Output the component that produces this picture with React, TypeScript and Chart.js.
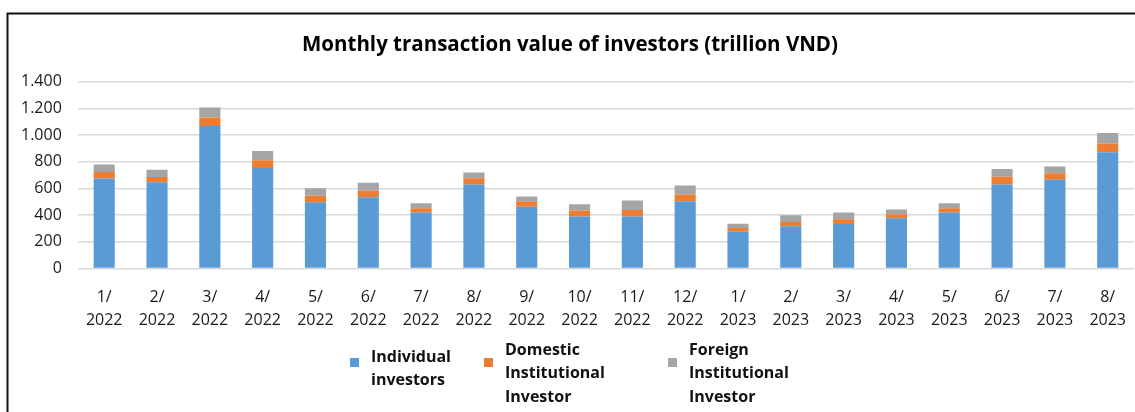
import React, { useEffect, useRef } from "react";
import { Chart, registerables } from "chart.js";

Chart.register(...registerables);

const categories: string[][] = [
  ["1/", "2022"], ["2/", "2022"], ["3/", "2022"], ["4/", "2022"], ["5/", "2022"],
  ["6/", "2022"], ["7/", "2022"], ["8/", "2022"], ["9/", "2022"], ["10/", "2022"],
  ["11/", "2022"], ["12/", "2022"], ["1/", "2023"], ["2/", "2023"], ["3/", "2023"],
  ["4/", "2023"], ["5/", "2023"], ["6/", "2023"], ["7/", "2023"], ["8/", "2023"],
];

const individual = [675, 647, 1067, 753, 497, 534, 419, 630, 462, 389, 389, 504, 276, 316, 334, 376, 419, 630, 665, 871];
const domestic = [48, 38, 65, 58, 48, 49, 33, 47, 42, 45, 50, 51, 28, 33, 35, 30, 33, 58, 48, 65];
const foreign = [57, 55, 75, 70, 57, 60, 37, 43, 36, 48, 71, 67, 32, 50, 50, 36, 37, 57, 52, 80];

const seriesLines: string[][] = [
  ["Individual", "investors"],
  ["Domestic", "Institutional", "Investor"],
  ["Foreign", "Institutional", "Investor"],
];
const seriesColors = ["#5B9BD5", "#ED7D31", "#A5A5A5"];

const titleText = "Monthly transaction value of investors (trillion VND)";
const yTicks = [0, 200, 400, 600, 800, 1000, 1200, 1400];

const FONT = '"Open Sans", "Noto Sans", sans-serif';

const frameLegendPlugin = {
  id: "frameLegend",
  beforeDraw(chart: any) {
    const ctx = chart.ctx;
    ctx.save();
    ctx.fillStyle = "#ffffff";
    ctx.fillRect(0, 0, chart.width, chart.height);
    ctx.strokeStyle = "#111111";
    ctx.lineWidth = 2;
    ctx.strokeRect(7.5, 13.5, 1200, 500);
    ctx.restore();
  },
  afterDraw(chart: any) {
    const ctx = chart.ctx;
    const boxX = [350, 484, 668];
    ctx.save();
    ctx.font = `bold 16px ${FONT}`;
    ctx.textAlign = "left";
    ctx.textBaseline = "alphabetic";
    chart.data.datasets.forEach((ds: any, i: number) => {
      const bx = boxX[i];
      ctx.fillStyle = ds.backgroundColor;
      ctx.fillRect(bx, 358, 9, 9);
      const lines = seriesLines[i];
      const first = 375.1 - 6.7 * lines.length;
      ctx.fillStyle = "#111111";
      lines.forEach((ln, j) => {
        ctx.fillText(ln, bx + 21, first + j * 23.3);
      });
    });
    ctx.restore();
  },
};

export default function App() {
  const ref = useRef<HTMLCanvasElement | null>(null);

  useEffect(() => {
    document.body.style.margin = "0";
    document.body.style.overflow = "hidden";
    const canvas = ref.current;
    if (!canvas) return;
    const chart = new Chart(canvas, {
      type: "bar",
      data: {
        labels: categories,
        datasets: [individual, domestic, foreign].map((d, i) => ({
          label: seriesLines[i].join(" "),
          data: d,
          backgroundColor: seriesColors[i],
          borderWidth: 0,
          categoryPercentage: 1,
          barPercentage: 0.4,
        })),
      },
      options: {
        responsive: false,
        animation: false,
        devicePixelRatio: 1,
        layout: { padding: { left: 5, right: 0, top: 0, bottom: 70.5 } },
        plugins: {
          legend: { display: false },
          tooltip: { enabled: false },
          title: {
            display: true,
            text: titleText,
            color: "#000000",
            font: { family: FONT, size: 20.5, weight: "bold", lineHeight: 1.2 },
            padding: { top: 32.5, bottom: 24.6 },
          },
        },
        scales: {
          x: {
            stacked: true,
            grid: { display: false },
            border: { display: false },
            ticks: {
              color: "#1a1a1a",
              font: { family: FONT, size: 16, lineHeight: 1.47 },
              padding: 9,
              maxRotation: 0,
              autoSkip: false,
            },
          },
          y: {
            stacked: true,
            min: 0,
            max: 1400,
            afterBuildTicks: (axis: any) => {
              axis.ticks = yTicks.map((v) => ({ value: v }));
            },
            grid: { color: "#d9d9d9", lineWidth: 1.5, drawTicks: false },
            border: { display: false },
            ticks: {
              color: "#1a1a1a",
              font: { family: FONT, size: 16 },
              padding: 16,
              callback: (v: any) => String(v).replace(/\B(?=(\d{3})+(?!\d))/g, "."),
            },
          },
        },
      },
      plugins: [frameLegendPlugin],
    });
    return () => chart.destroy();
  }, []);

  return (
    <div style={{ width: 1135, height: 412 }}>
      <canvas ref={ref} width={1135} height={412} style={{ display: "block" }} />
    </div>
  );
}
